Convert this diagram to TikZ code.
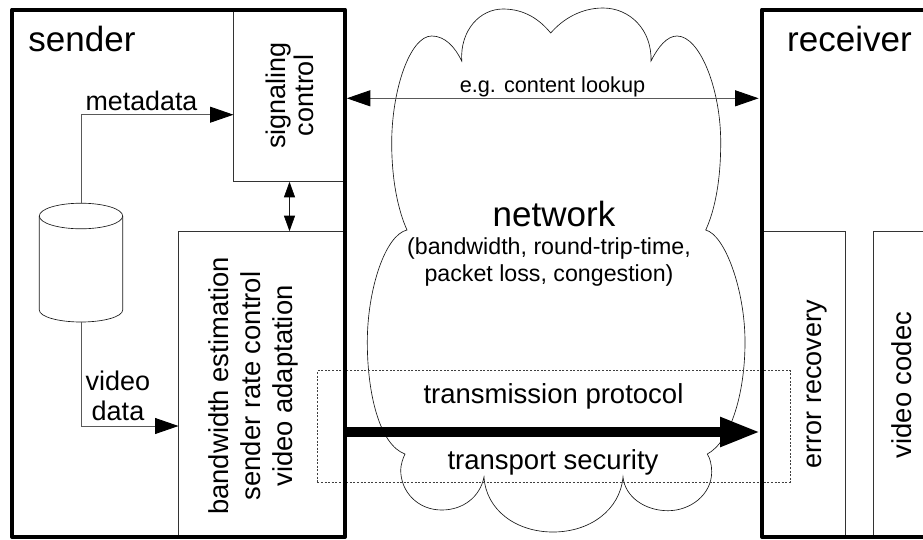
\documentclass[tikz,border=0pt]{standalone}
\usepackage{fontspec}
\setmainfont{Liberation Sans}
\usetikzlibrary{arrows.meta}
\tikzset{
  x=1pt,y=-1pt,
  frame/.style={draw=black,line width=4pt,line join=round,inner sep=0pt,outer sep=0pt,anchor=north west},
  panel/.style={draw=black!80,line width=0.7pt,inner sep=0pt,outer sep=0pt,anchor=north west},
  dotbox/.style={draw=black!75,line width=0.7pt,dash pattern=on 2pt off 1.6pt,inner sep=0pt,outer sep=0pt,anchor=north west},
  shapeline/.style={draw=black!90,line width=0.65pt},
  link/.style={draw=black!65,line width=0.9pt},
  bigtip/.tip={Triangle[length=23.5pt,width=16pt,color=black]},
  smalltip/.tip={Triangle[length=15.5pt,width=11pt,color=black]},
  hugetip/.tip={Triangle[length=40.5pt,width=27pt,color=black]},
  lab/.style={inner sep=0pt,align=center,text=black},
  rot/.style={lab,rotate=90},
}
\begin{document}
\begin{tikzpicture}
\useasboundingbox (0,0) rectangle (923,539);
\fill[white] (0,0) rectangle (923,539);
% cloud
\draw[shapeline] (461.7,61) .. controls (460,30) and (480,9) .. (503,9)
 .. controls (525,9) and (540,20) .. (550.7,33)
 .. controls (562,20) and (580,8) .. (603,8)
 .. controls (630,8) and (652,30) .. (651,61)
 .. controls (658,47) and (667,36) .. (677,36)
 .. controls (700,36) and (721,90) .. (720.7,143)
 .. controls (720.7,180) and (715,210) .. (705.7,230)
 .. controls (725,235) and (745,290) .. (745,342)
 .. controls (745,395) and (730,442) .. (707.3,454)
 .. controls (710,458) and (711.7,465) .. (711.7,471.7)
 .. controls (711.7,495) and (690,510.7) .. (668,510.7)
 .. controls (645,510.7) and (625,497) .. (623,477)
 .. controls (620,510) and (590,532) .. (553,532)
 .. controls (516,532) and (486,510) .. (484,477)
 .. controls (480,497) and (463,510) .. (441.7,510)
 .. controls (418,510) and (400.7,492) .. (400.7,470)
 .. controls (400.7,465) and (403,458) .. (405,454)
 .. controls (380,445) and (367.3,395) .. (367.3,342)
 .. controls (367.3,290) and (385,235) .. (407,230)
 .. controls (398,210) and (391.7,180) .. (391.7,143)
 .. controls (391.7,90) and (410,36) .. (431.7,36)
 .. controls (445,36) and (455,47) .. (461.7,61) -- cycle;
% panels
\node[panel,minimum width=112pt,minimum height=173pt] (sig) at (233.5,8.5) {};
\node[panel,minimum width=167pt,minimum height=306pt] (adapt) at (178.5,231.5) {};
\node[panel,minimum width=84pt,minimum height=306pt] (err) at (761.5,231.5) {};
\node[panel,minimum width=80pt,minimum height=306pt] (codec) at (873.5,231.5) {};
% dotted
\node[dotbox,minimum width=472.7pt,minimum height=111.6pt] (layer) at (317.3,370.7) {};
% frames
\node[frame,minimum width=332.7pt,minimum height=527.5pt] (sender) at (12.3,9.5) {};
\node[frame,minimum width=200pt,minimum height=527.5pt] (receiver) at (762,9.5) {};
% cylinder
\draw[shapeline] (39.3,216) -- (39.3,310) arc[start angle=180,end angle=0,x radius=41.7,y radius=12] -- (122.7,216);
\draw[shapeline] (81,216) ellipse[x radius=41.7,y radius=12.8];
\coordinate (dbtop) at (81,203.2);
\coordinate (dbbot) at (81,322);
% connectors
\draw[link,-bigtip] (dbtop) -- (dbtop |- 0,114.7) -- (sig.west |- 0,114.7);
\draw[link,-bigtip] (dbbot) -- (dbbot |- 0,426) -- (adapt.west |- 0,426);
\coordinate (lkl) at (346.8,98.3);
\coordinate (lkr) at (758.6,98.3);
\draw[link,bigtip-bigtip] (lkl) -- (lkr);
\draw[shapeline,smalltip-smalltip] (289.5,181.8) coordinate (cd1) -- (289.5,231.2) coordinate (cd2);
\coordinate (tpr) at (760.7,432);
\draw[line width=10.5pt,-hugetip] (sender.east |- 0,432) -- (tpr);
% labels
\node[lab,font=\fontsize{35}{40}\selectfont] (ls) at (82,39) {sender};
\node[lab,font=\fontsize{35}{40}\selectfont,anchor=west] (lr) at (787,39) {receiver};
\node[lab,font=\fontsize{26.8}{30}\selectfont] (lm) at (141.5,100.5) {metadata};
\node[lab,font=\fontsize{27}{30}\selectfont] (lv) at (118,396) {video\\data};
\node[rot,font=\fontsize{27}{28}\selectfont] (lsc) at (289.5,95.5) {signaling\\control};
\node[rot,font=\fontsize{27.4}{32}\selectfont] (lb) at (253,386) {bandwidth estimation\\sender rate control\\video adaptation};
\node[lab,font=\fontsize{21.7}{25}\selectfont] (ll) at (552.5,86.5) {e.g. content lookup};
\node[lab,font=\fontsize{35}{40}\selectfont] (ln) at (554,214) {network};
\node[lab,font=\fontsize{23.2}{27}\selectfont] (lbw) at (549,262) {(bandwidth, round-trip-time,\\packet loss, congestion)};
\node[lab,font=\fontsize{27.5}{30}\selectfont] (ltp) at (553.5,396) {transmission protocol};
\node[lab,font=\fontsize{27.5}{30}\selectfont] (lts) at (553,462.5) {transport security};
\node[rot,font=\fontsize{27}{30}\selectfont] (ler) at (817,384) {error recovery};
\node[rot,font=\fontsize{27.4}{30}\selectfont] (lvc) at (901.5,385) {video codec};
\end{tikzpicture}
\end{document}
